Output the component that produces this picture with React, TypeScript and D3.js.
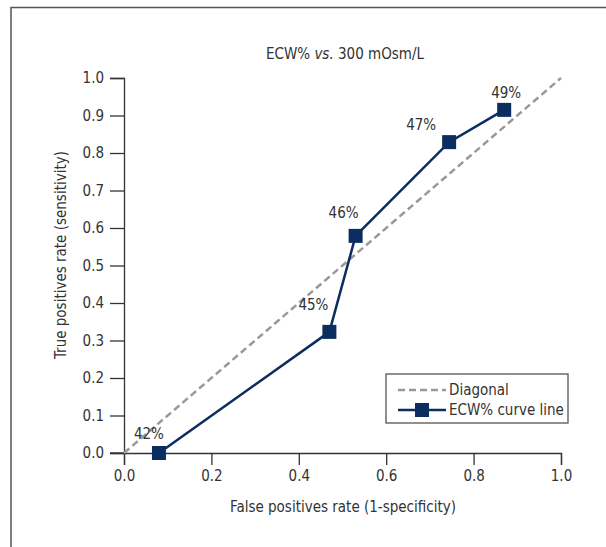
import React, { useEffect, useRef } from 'react';
import * as d3 from 'd3';

// ROC points
const fpr = [0.08, 0.47, 0.53, 0.744, 0.87];
const tpr = [0.0, 0.323, 0.579, 0.829, 0.915];
const cutLabels = ['42%', '45%', '46%', '47%', '49%'];
// label offsets (relative to the marker) so they sit like the original
const labelDx = [-10, -16, -12, -28, 2];
const labelDy = [-14, -22, -18, -12, -12];
const ticks = [0, 0.2, 0.4, 0.6, 0.8, 1.0];
const yTicks = [0, 0.1, 0.2, 0.3, 0.4, 0.5, 0.6, 0.7, 0.8, 0.9, 1.0];

const FONT = '"Liberation Sans Narrow", "DejaVu Sans Condensed", "Roboto Condensed", sans-serif';
const NAVY = '#0b2d5f';
const TEXT = '#333';

const App = () => {
  const ref = useRef<SVGSVGElement | null>(null);

  useEffect(() => {
    if (!ref.current) return;
    const svg = d3.select(ref.current);
    svg.selectAll('*').remove();

    const x = d3.scaleLinear().domain([0, 1]).range([124, 561]);
    const y = d3.scaleLinear().domain([0, 1]).range([453, 78]);

    // outer frame (left + top edges only visible)
    svg.append('path').attr('d', 'M11,547 V7.5 H606').attr('fill', 'none').attr('stroke', '#555').attr('stroke-width', 1.5);

    // title
    const title = svg.append('text').attr('x', 345).attr('y', 59).attr('text-anchor', 'middle')
      .style('font-family', FONT).style('font-size', '15px').attr('fill', TEXT);
    title.append('tspan').text('ECW% ');
    title.append('tspan').style('font-style', 'italic').text('vs.');
    title.append('tspan').text(' 300 mOsm/L');

    // axes
    const gx = svg.append('g').attr('transform', `translate(0,${y(0)})`)
      .call(d3.axisBottom(x).tickValues(ticks).tickFormat(d3.format('.1f')).tickSizeOuter(0).tickSize(12).tickPadding(5));
    const gy = svg.append('g').attr('transform', `translate(${x(0)},0)`)
      .call(d3.axisLeft(y).tickValues(yTicks).tickFormat(d3.format('.1f')).tickSizeOuter(0).tickSize(14).tickPadding(6));
    [gx, gy].forEach(g => {
      g.select('.domain').attr('stroke', '#333').attr('stroke-width', 1.3);
      g.selectAll('line').attr('stroke', '#333').attr('stroke-width', 1.3);
      g.selectAll('text').style('font-family', FONT).style('font-size', '15px').attr('fill', TEXT);
    });
    // extend x-axis line left to meet the 0.0 tick
    svg.append('line').attr('x1', 110).attr('x2', x(0)).attr('y1', y(0)).attr('y2', y(0)).attr('stroke', '#333').attr('stroke-width', 1.3);

    // axis titles
    svg.append('text').attr('x', 343).attr('y', 512).attr('text-anchor', 'middle')
      .style('font-family', FONT).style('font-size', '15px').attr('fill', TEXT)
      .text('False positives rate (1-specificity)');
    svg.append('text').attr('transform', `translate(66,255) rotate(-90)`).attr('text-anchor', 'middle')
      .style('font-family', FONT).style('font-size', '15px').attr('fill', TEXT)
      .text('True positives rate (sensitivity)');

    // diagonal
    svg.append('line').attr('x1', x(0)).attr('y1', y(0)).attr('x2', x(1)).attr('y2', y(1))
      .attr('stroke', '#999').attr('stroke-width', 2.5).attr('stroke-dasharray', '7,4');

    // ROC curve
    const pts = fpr.map((v, i) => [v, tpr[i]] as [number, number]);
    const line = d3.line<[number, number]>().x(d => x(d[0])).y(d => y(d[1]));
    svg.append('path').datum(pts).attr('d', line).attr('fill', 'none').attr('stroke', NAVY).attr('stroke-width', 2.5);
    svg.append('g').selectAll('rect').data(pts).enter().append('rect')
      .attr('x', d => x(d[0]) - 7).attr('y', d => y(d[1]) - 7).attr('width', 14).attr('height', 14).attr('fill', NAVY);
    svg.append('g').selectAll('text').data(pts).enter().append('text')
      .attr('x', (d, i) => x(d[0]) + labelDx[i]).attr('y', (d, i) => y(d[1]) + labelDy[i])
      .attr('text-anchor', 'middle').style('font-family', FONT).style('font-size', '15px').attr('fill', TEXT)
      .text((d, i) => cutLabels[i]);

    // legend
    const lg = svg.append('g').attr('transform', 'translate(386,374)');
    lg.append('rect').attr('width', 182).attr('height', 49).attr('fill', '#fff').attr('stroke', '#555').attr('stroke-width', 1.3);
    lg.append('line').attr('x1', 12).attr('x2', 60).attr('y1', 16).attr('y2', 16)
      .attr('stroke', '#999').attr('stroke-width', 2.5).attr('stroke-dasharray', '7,4');
    lg.append('line').attr('x1', 12).attr('x2', 60).attr('y1', 36).attr('y2', 36).attr('stroke', NAVY).attr('stroke-width', 2.5);
    lg.append('rect').attr('x', 29).attr('y', 29).attr('width', 14).attr('height', 14).attr('fill', NAVY);
    lg.append('text').attr('x', 63).attr('y', 21).style('font-family', FONT).style('font-size', '15px').attr('fill', TEXT).text('Diagonal');
    lg.append('text').attr('x', 63).attr('y', 41).style('font-family', FONT).style('font-size', '15px').attr('fill', TEXT).text('ECW% curve line');
  }, []);

  return (
    <svg ref={ref} width={606} height={547}
      style={{ position: 'absolute', left: 0, top: 0, background: '#fff' }} />
  );
};

export default App;
